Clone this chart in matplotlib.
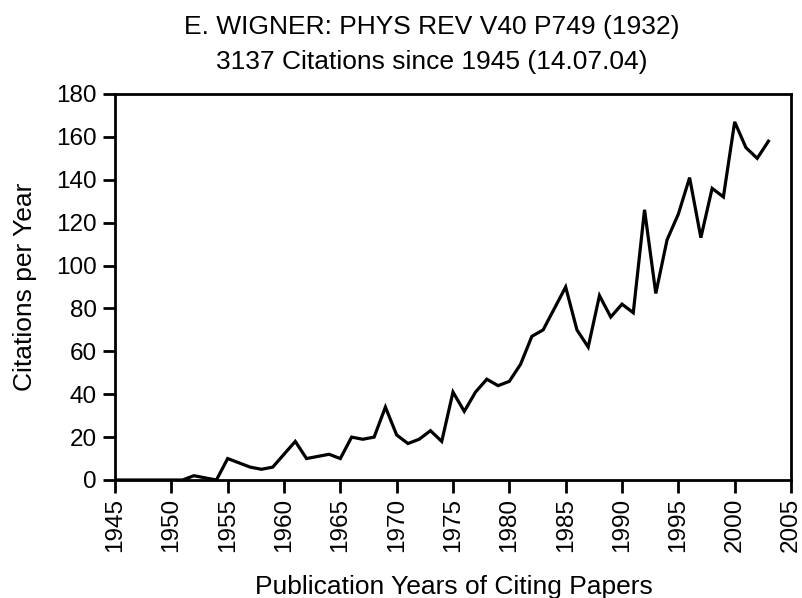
import matplotlib
matplotlib.use("Agg")
import matplotlib.pyplot as plt

plt.rcParams['font.family'] = ['Liberation Sans', 'DejaVu Sans']

years = list(range(1945, 2004))
citations = [0, 0, 0, 0, 0, 0, 0, 2, 1, 0,
             10, 8, 6, 5, 6, 12, 18, 10, 11, 12,
             10, 20, 19, 20, 34, 21, 17, 19, 23, 18,
             41, 32, 41, 47, 44, 46, 54, 67, 70, 80,
             90, 70, 62, 86, 76, 82, 78, 126, 87, 112,
             124, 141, 113, 136, 132, 167, 155, 150, 158]

title_lines = ["E. WIGNER: PHYS REV V40 P749 (1932)",
               "3137 Citations since 1945 (14.07.04)"]
x_ticks = list(range(1945, 2006, 5))
y_ticks = list(range(0, 181, 20))

W, H = 802, 598
fig = plt.figure(figsize=(W/100, H/100), dpi=100)
ax = fig.add_axes([115/W, 1-480/H, (791-115)/W, (480-94)/H])
ax.plot(years, citations, color='black', lw=2.3, solid_joinstyle='miter')
ax.set_xlim(1945, 2005)
ax.set_ylim(0, 180)
ax.set_xticks(x_ticks)
ax.set_xticklabels([str(t) for t in x_ticks], rotation=90, fontsize=17.5)
ax.set_yticks(y_ticks)
ax.set_yticklabels([str(t) for t in y_ticks], fontsize=17.5)
ax.tick_params(direction='out', length=9, width=2, pad=4)
for s in ax.spines.values():
    s.set_linewidth(2)
ax.set_ylabel("Citations per Year", fontsize=19, labelpad=14)
fig.text(454/W, 4/H, "Publication Years of Citing Papers", fontsize=19,
         ha='center', va='baseline')
fig.text(432/W, 1-34/H, title_lines[0], fontsize=19, ha='center', va='baseline')
fig.text(432/W, 1-69/H, title_lines[1], fontsize=19, ha='center', va='baseline')
fig.savefig("out.png", dpi=100)
